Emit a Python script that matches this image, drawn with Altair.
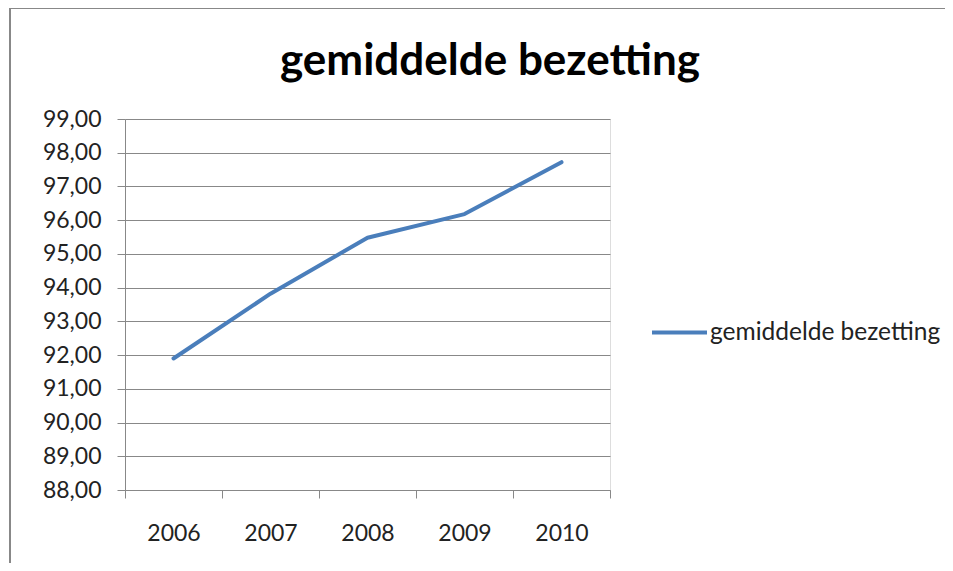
import altair as alt
import pandas as pd

years = [2006, 2007, 2008, 2009, 2010]
values = [91.90, 93.82, 95.48, 96.18, 97.72]
series_name = "gemiddelde bezetting"
title_text = "gemiddelde bezetting"
y_ticks = [88, 89, 90, 91, 92, 93, 94, 95, 96, 97, 98, 99]
x_ticks = [2005.5, 2006.5, 2007.5, 2008.5, 2009.5, 2010.5]

df = pd.DataFrame({"jaar": years, "bezetting": values, "reeks": [series_name] * len(years)})
title_df = pd.DataFrame({"titel": [title_text]})

FONT = "Lato"
GRAY = "#888888"
BLUE = "#4A7EBB"
W, H = 485, 371

base = alt.Chart(df)

line = base.mark_line(strokeWidth=4, strokeCap="round", strokeJoin="round").encode(
    x=alt.X(
        "jaar:Q",
        scale=alt.Scale(domain=[2005.5, 2010.5], nice=False, zero=False),
        axis=alt.Axis(
            title=None,
            values=x_ticks,
            grid=False,
            tickSize=8,
            tickColor=GRAY,
            domainColor=GRAY,
            labelExpr="datum.value < 2010 ? toString(datum.value + 0.5) : ''",
            labelOffset=48.5,
            labelFlush=False,
            labelOverlap=False,
            labelPadding=24,
            labelFont=FONT,
            labelFontSize=23,
            labelColor="#222222",
            labelBaseline="top",
        ),
    ),
    y=alt.Y(
        "bezetting:Q",
        scale=alt.Scale(domain=[88, 99], nice=False, zero=False),
        axis=alt.Axis(
            title=None,
            values=y_ticks,
            grid=True,
            gridColor=GRAY,
            gridWidth=1,
            tickSize=8,
            tickColor=GRAY,
            domainColor=GRAY,
            labelExpr="replace(format(datum.value, '.2f'), '.', ',')",
            labelPadding=16,
            labelFont=FONT,
            labelFontSize=23,
            labelColor="#222222",
        ),
    ),
    color=alt.Color(
        "reeks:N",
        scale=alt.Scale(range=[BLUE]),
        legend=alt.Legend(
            title=None,
            orient="none",
            legendX=525,
            legendY=184,
            symbolType="stroke",
            symbolSize=3025,
            symbolStrokeWidth=4,
            labelFont=FONT,
            labelFontSize=24.5,
            labelColor="#222222",
            labelOffset=1,
            labelLimit=400,
            padding=0,
        ),
    ),
)

title = alt.Chart(title_df).mark_text(
    font=FONT, fontSize=44, fontWeight="bold", color="#000000",
    align="center", baseline="alphabetic",
).encode(text="titel:N", x=alt.value(365), y=alt.value(-44))

border_top = base.mark_rule(color=GRAY, strokeWidth=2).encode(
    x=alt.value(-115), x2=alt.value(953 - 125), y=alt.value(-111)
)
border_left = base.mark_rule(color=GRAY, strokeWidth=2).encode(
    x=alt.value(-115), y=alt.value(-111), y2=alt.value(571 - 119)
)

chart = alt.layer(border_top, border_left, title, line).properties(
    width=W,
    height=H,
    padding={"left": 117, "top": 111, "right": 953 - 16 - 117 - W, "bottom": 571 - 16 - 111 - H},
    autosize=alt.AutoSizeParams(type="none"),
).configure_view(stroke=None).configure(background="white")

chart.save("out.html", embed_options={"renderer": "svg", "actions": False})
